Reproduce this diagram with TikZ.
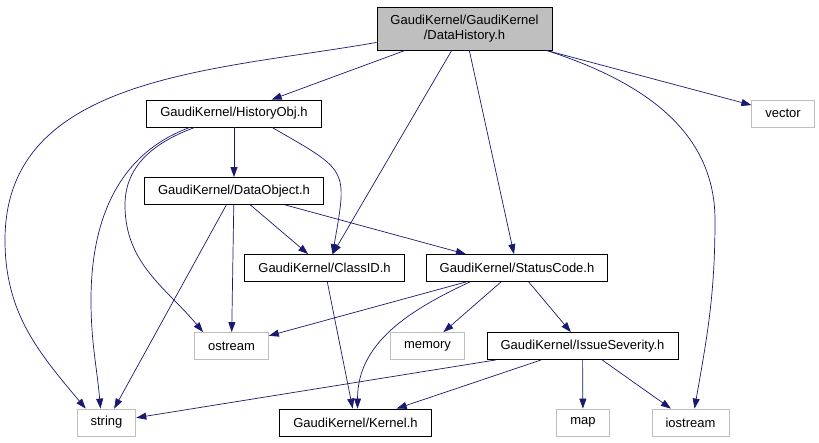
\documentclass[tikz,border=0pt]{standalone}
\usepackage{fontspec}
\setmainfont{Liberation Sans}
\usetikzlibrary{arrows.meta}
\definecolor{edgeblue}{RGB}{25,25,112}
\definecolor{boxgray}{RGB}{191,191,191}
\begin{document}
\begin{tikzpicture}[x=1pt,y=1pt,
 file/.style={draw=black,line width=0.8pt,inner xsep=13.5pt,inner ysep=0pt,
  minimum height=27pt,font=\fontsize{13}{15}\selectfont},
 sys/.style={file,draw=boxgray},
 edge/.style={draw=edgeblue,line width=0.7pt,-{Triangle[length=10pt,width=7pt]}}]
\useasboundingbox (0,0) rectangle (819,-443);

\node[file,fill=boxgray,align=center,minimum height=43pt] (dh) at (464.5,-28.5)
 {GaudiKernel/GaudiKernel\\/DataHistory.h};
\node[file] (hist) at (234,-113.5) {GaudiKernel/HistoryObj.h};
\node[sys] (vec) at (783,-113.5) {vector};
\node[file] (dobj) at (234,-191) {GaudiKernel/DataObject.h};
\node[file] (cls) at (324.5,-268) {GaudiKernel/ClassID.h};
\node[file] (sc) at (517,-268) {GaudiKernel/StatusCode.h};
\node[sys] (ost) at (231.5,-346) {ostream};
\node[sys] (mem) at (427.5,-346) {memory};
\node[file] (iss) at (582.5,-346) {GaudiKernel/IssueSeverity.h};
\node[sys] (str) at (106.5,-422.5) {string};
\node[file] (kern) at (355.5,-422.5) {GaudiKernel/Kernel.h};
\node[sys] (map) at (583,-422.5) {map};
\node[sys] (ios) at (690.5,-422.5) {iostream};

\foreach \a/\b in {dh/hist,dh/cls,dh/sc,dh/vec,hist/dobj,dobj/cls,dobj/sc,
 dobj/ost,dobj/str,cls/kern,sc/ost,sc/mem,sc/iss,iss/str,iss/kern,iss/map,iss/ios}
 \draw[edge] (\a) -- (\b);

\coordinate (lw) at (5,-240);
\coordinate (rw) at (715,-220);
\coordinate (hw) at (91,-300);
\coordinate (ow) at (125,-205);
\draw[edge] (dh.189) to[out=190,in=90] (lw) to[out=-90,in=130] ([xshift=9pt]str.north west);
\draw[edge] ([xshift=-6pt]dh.south east) to[out=-18,in=90] (rw) to[out=-90,in=80] ([xshift=4pt]ios.north);
\draw[edge] ([xshift=-44pt]hist.south) to[out=200,in=90] (hw) to[out=-90,in=95] ([xshift=-6pt]str.north);
\draw[edge] ([xshift=-39pt]hist.south) to[out=200,in=90] (ow) to[out=-90,in=130] ([xshift=9pt]ost.north west);
\draw[edge] ([xshift=38pt]hist.south) to[out=-30,in=80,looseness=1.6] ([xshift=8pt]cls.north);
\draw[edge] ([xshift=-47pt]sc.south) to[out=205,in=90] ([xshift=2pt]kern.north);
\end{tikzpicture}
\end{document}
